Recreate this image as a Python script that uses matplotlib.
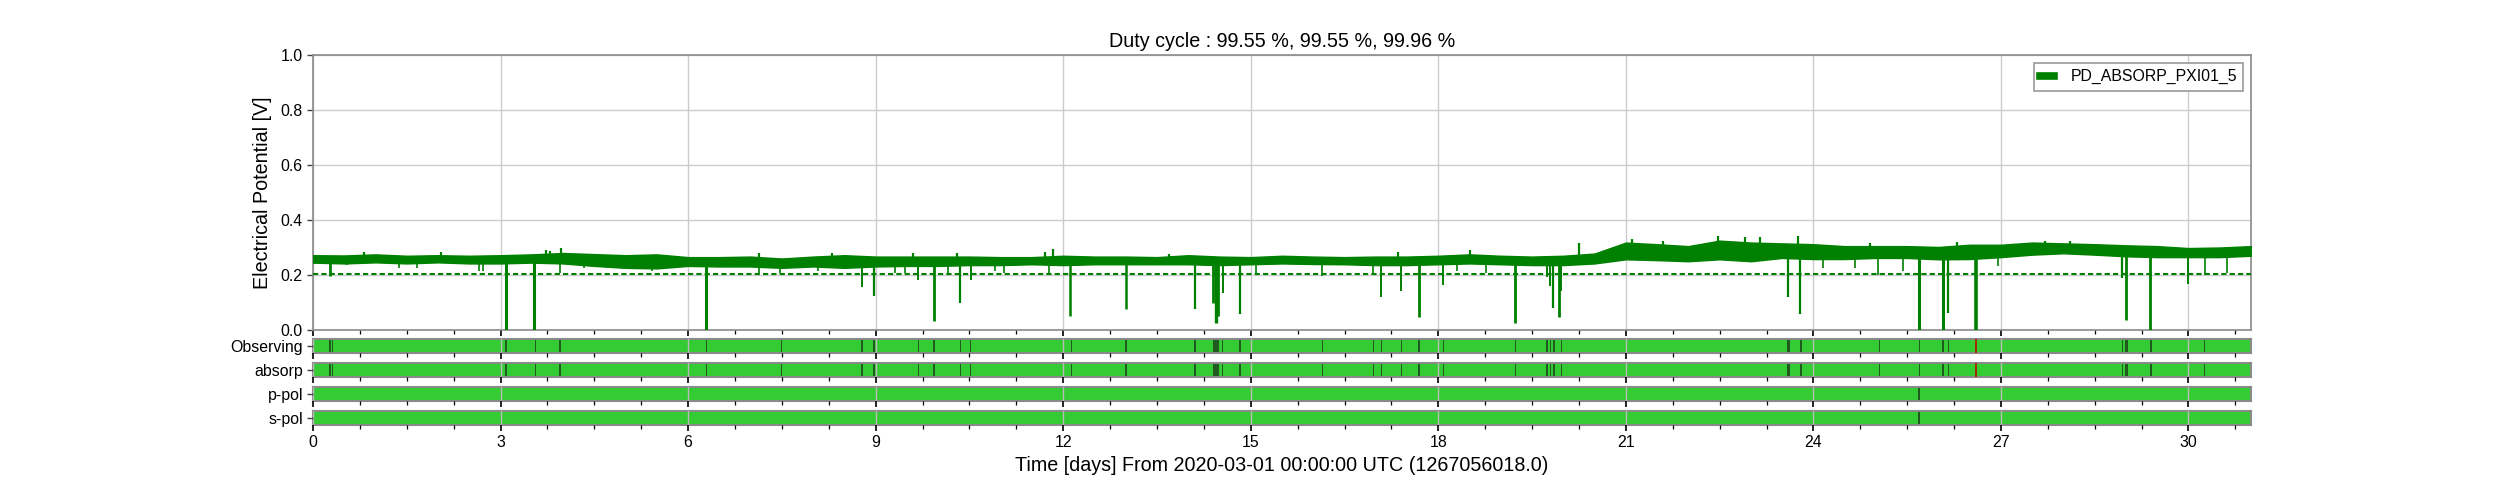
import matplotlib
matplotlib.use('Agg')
import matplotlib.pyplot as plt
import numpy as np
from matplotlib.lines import Line2D
from matplotlib.ticker import MultipleLocator, FormatStrFormatter

plt.rcParams['font.family'] = ['Liberation Sans', 'DejaVu Sans']

# ---------------- data ----------------
title_text = "Duty cycle : 99.55 %, 99.55 %, 99.96 %"
channel = "PD_ABSORP_PXI01_5"
xlabel_text = "Time [days] From 2020-03-01 00:00:00 UTC (1267056018.0)"
ylabel_text = "Electrical Potential [V]"
threshold = 0.205

env_days = [0.0, 0.5, 1.0, 1.5, 2.0, 2.5, 3.0, 3.5, 4.0, 4.5, 5.0, 5.5, 6.0, 6.5, 7.0, 7.5,
            8.0, 8.5, 9.0, 9.5, 10.0, 10.5, 11.0, 11.5, 12.0, 12.5, 13.0, 13.5, 14.0, 14.5,
            15.0, 15.5, 16.0, 16.5, 17.0, 17.5, 18.0, 18.5, 19.0, 19.5, 20.0, 20.5, 21.0,
            21.5, 22.0, 22.5, 23.0, 23.5, 24.0, 24.5, 25.0, 25.5, 26.0, 26.5, 27.0, 27.5,
            28.0, 28.5, 29.0, 29.5, 30.0, 30.5, 31.0]
env_hi = [0.272, 0.271, 0.275, 0.270, 0.272, 0.270, 0.272, 0.275, 0.280, 0.276, 0.272, 0.275,
          0.265, 0.265, 0.267, 0.260, 0.267, 0.272, 0.267, 0.267, 0.267, 0.267, 0.265, 0.265,
          0.270, 0.267, 0.267, 0.265, 0.272, 0.267, 0.265, 0.270, 0.267, 0.265, 0.267, 0.267,
          0.270, 0.275, 0.270, 0.267, 0.270, 0.278, 0.318, 0.312, 0.305, 0.325, 0.318, 0.315,
          0.312, 0.305, 0.305, 0.305, 0.302, 0.310, 0.310, 0.318, 0.315, 0.312, 0.308, 0.305,
          0.298, 0.300, 0.305]
env_lo = [0.245, 0.242, 0.246, 0.242, 0.246, 0.242, 0.242, 0.245, 0.242, 0.233, 0.226, 0.224,
          0.233, 0.231, 0.231, 0.226, 0.231, 0.226, 0.231, 0.233, 0.233, 0.236, 0.236, 0.239,
          0.236, 0.239, 0.239, 0.239, 0.239, 0.236, 0.239, 0.242, 0.240, 0.239, 0.236, 0.236,
          0.239, 0.242, 0.239, 0.236, 0.236, 0.242, 0.257, 0.254, 0.250, 0.257, 0.250, 0.262,
          0.258, 0.258, 0.262, 0.262, 0.257, 0.258, 0.265, 0.274, 0.279, 0.274, 0.268, 0.265,
          0.265, 0.265, 0.270]

dip_days = [0.27, 0.55, 1.38, 1.67, 2.65, 2.72, 3.08, 3.54, 3.95, 4.33, 5.42, 6.28, 7.13, 7.47,
            8.07, 8.78, 8.97, 9.31, 9.47, 9.68, 9.94, 10.16, 10.35, 10.52, 10.91, 11.06, 11.78,
            12.11, 13.00, 14.11, 14.40, 14.45, 14.48, 14.55, 14.83, 15.09,
            16.14, 16.96, 17.08, 17.41, 17.69, 18.08, 18.30, 18.76, 19.23, 19.74, 19.79, 19.84,
            19.93, 19.97,
            23.59, 23.78, 24.16, 24.67, 25.04, 25.44, 25.69, 26.07, 26.15, 26.60, 26.96, 28.94,
            29.00, 29.38, 30.00, 30.26, 30.62]
dip_min = [0.197, 0.237, 0.227, 0.224, 0.216, 0.216, 0.0, 0.0, 0.206, 0.224, 0.213, 0.0, 0.208,
           0.206,
           0.213, 0.155, 0.124, 0.206, 0.208, 0.182, 0.034, 0.208, 0.099, 0.182, 0.213, 0.208,
           0.208, 0.052, 0.076, 0.075, 0.100, 0.024, 0.050, 0.133, 0.060, 0.206,
           0.197, 0.206, 0.119, 0.143, 0.046, 0.165, 0.213, 0.206, 0.027, 0.191, 0.160, 0.079,
           0.046, 0.143,
           0.121, 0.058, 0.224, 0.224, 0.200, 0.213, 0.0, 0.0, 0.063, 0.0, 0.233, 0.188,
           0.036, 0.0, 0.167, 0.200, 0.206]
dip_lw = [2.0, 1.2, 1.2, 1.2, 1.2, 1.2, 2.2, 2.2, 1.2, 1.2, 1.2, 2.2, 1.2, 1.2,
          1.2, 1.4, 1.6, 1.2, 1.2, 1.4, 2.0, 1.2, 1.6, 1.4, 1.2, 1.2,
          1.2, 1.8, 1.8, 1.6, 2.0, 2.4, 2.0, 1.4, 1.6, 1.2,
          1.2, 1.2, 1.4, 1.4, 2.0, 1.4, 1.2, 1.2, 2.0, 1.4, 1.4, 1.6,
          2.0, 1.4,
          1.6, 1.6, 1.2, 1.2, 1.2, 1.2, 2.2, 2.2, 1.6, 2.6, 1.2, 1.6,
          2.0, 2.0, 1.4, 1.2, 1.2]

peak_days = [0.82, 2.05, 3.72, 3.79, 3.97, 7.13, 8.3, 9.6, 10.3, 11.71, 11.83, 13.7, 17.36,
             18.51, 20.25, 21.1, 21.6, 22.48, 22.9, 23.14, 23.75, 24.9, 26.3, 27.7, 28.1]
peak_max = [0.285, 0.283, 0.290, 0.286, 0.299, 0.281, 0.279, 0.279, 0.279, 0.283, 0.293,
            0.276, 0.283, 0.291, 0.315, 0.330, 0.325, 0.343, 0.339, 0.339, 0.342, 0.318,
            0.320, 0.325, 0.322]

state_names = ["Observing", "absorp", "p-pol", "s-pol"]
obs_off_start = [0.26, 0.30, 3.07, 3.55, 3.94, 6.28, 7.48, 8.77, 8.96, 9.68, 9.92, 10.35, 10.51,
                 12.12, 12.99, 14.10, 14.40, 14.54, 14.82, 16.14, 16.95, 17.08, 17.40, 17.68,
                 18.07, 19.22, 19.73, 19.78, 19.84, 19.96, 23.57, 23.60, 23.79, 25.05, 25.69,
                 26.06, 26.15, 28.93, 28.99, 29.39, 30.25]
obs_off_width = [0.02, 0.02, 0.03, 0.02, 0.02, 0.02, 0.02, 0.02, 0.03, 0.02, 0.03, 0.02, 0.02,
                 0.02, 0.03, 0.02, 0.09, 0.02, 0.02, 0.02, 0.02, 0.02, 0.02, 0.03,
                 0.02, 0.03, 0.02, 0.02, 0.03, 0.02, 0.02, 0.02, 0.02, 0.02, 0.02,
                 0.03, 0.02, 0.02, 0.04, 0.02, 0.02]
obs_red_start = [26.59]
obs_red_width = [0.03]
pol_off_start = [25.68]
pol_off_width = [0.02]

# ---------------- style ----------------
GREEN = 'green'
BAR = '#33cc33'
DARK = '#1f5a1f'
SPINE = '#8a8a8a'
GRID = '#cccccc'
TICK_FS = 11.4
LABEL_FS = 14.2

fig = plt.figure(figsize=(25, 5), dpi=100)
left, width = 0.1252, 0.7752
ax = fig.add_axes([left, 0.34, width, 0.55])

ax.fill_between(env_days, env_lo, env_hi, color=GREEN, lw=1.0, edgecolor=GREEN, zorder=3)
lo_at = np.interp(dip_days, env_days, env_lo)
ax.vlines(dip_days, dip_min, lo_at + 0.01, color=GREEN, lw=dip_lw, zorder=3)
hi_at = np.interp(peak_days, env_days, env_hi)
ax.vlines(peak_days, hi_at - 0.01, peak_max, color=GREEN, lw=1.6, zorder=3)
ax.axhline(threshold, color=GREEN, ls=(0, (2.5, 1.5)), lw=1.5, zorder=4)

ax.set_xlim(0, 31)
ax.set_ylim(0, 1)
ax.yaxis.set_major_locator(MultipleLocator(0.2))
ax.yaxis.set_major_formatter(FormatStrFormatter('%.1f'))
ax.xaxis.set_major_locator(MultipleLocator(3))
ax.xaxis.set_minor_locator(MultipleLocator(0.75))
ax.tick_params(axis='x', which='both', labelbottom=False, direction='out', color='black')
ax.tick_params(axis='x', which='major', length=4, width=1.2)
ax.tick_params(axis='x', which='minor', length=3, width=0.9)
ax.tick_params(axis='y', which='major', length=4, width=1.0, color='#444444', labelsize=TICK_FS)
ax.grid(True, which='major', color=GRID, lw=1.0)
ax.set_axisbelow(True)
for s in ax.spines.values():
    s.set_color(SPINE)
    s.set_linewidth(1.2)
ax.set_ylabel(ylabel_text, fontsize=LABEL_FS, labelpad=6)
ax.set_title(title_text, fontsize=LABEL_FS, pad=6)

leg = ax.legend([Line2D([], [], color=GREEN, lw=5.5)], [channel], loc='upper right',
                fontsize=TICK_FS, fancybox=False, framealpha=1, edgecolor='#999999',
                handlelength=0.9, handletextpad=1.0, borderaxespad=0.5)
leg.get_frame().set_linewidth(1.2)

bottoms = [0.294, 0.246, 0.198, 0.150]
offs = [(obs_off_start, obs_off_width), (obs_off_start, obs_off_width),
        (pol_off_start, pol_off_width), (pol_off_start, pol_off_width)]
reds = [(obs_red_start, obs_red_width), (obs_red_start, obs_red_width), ([], []), ([], [])]

state_axes = []
for i, name in enumerate(state_names):
    sax = fig.add_axes([left, bottoms[i], width, 0.028], sharex=ax)
    sax.broken_barh([(0, 31)], (0, 1), facecolors=BAR, edgecolor='none', zorder=1)
    st, wd = offs[i]
    sax.broken_barh(list(zip(st, wd)), (0, 1), facecolors=DARK, edgecolor='none', zorder=2)
    rs, rw = reds[i]
    if rs:
        sax.broken_barh(list(zip(rs, rw)), (0, 1), facecolors='#a52a00', edgecolor='none',
                        zorder=3)
    sax.set_ylim(0, 1)
    sax.set_yticks([0.5])
    sax.set_yticklabels([name])
    sax.tick_params(axis='y', length=4, width=1.0, color='#444444', labelsize=TICK_FS, pad=3)
    sax.tick_params(axis='x', which='both', direction='out', color='black',
                    labelbottom=(i == 3), labelsize=TICK_FS)
    sax.tick_params(axis='x', which='major', length=4, width=1.2)
    sax.tick_params(axis='x', which='minor', length=3, width=0.9)
    sax.grid(True, axis='x', which='major', color='#bbbbbb', lw=1.0, zorder=5)
    sax.set_axisbelow(False)
    for s in sax.spines.values():
        s.set_color(SPINE)
        s.set_linewidth(1.5)
    state_axes.append(sax)

ax.set_xlim(0, 31)
state_axes[-1].set_xlabel(xlabel_text, fontsize=LABEL_FS, labelpad=4)

fig.savefig('out.png', dpi=100)
